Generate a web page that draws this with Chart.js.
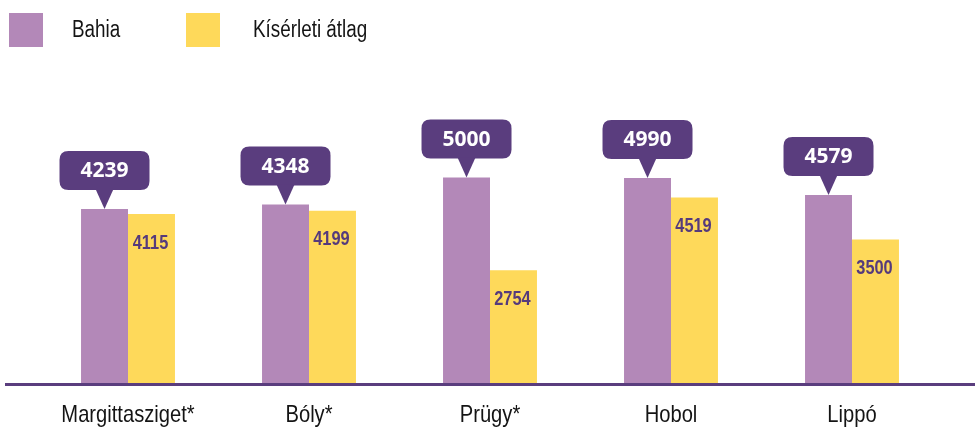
<!DOCTYPE html>
<html>
<head>
<meta charset="utf-8">
<script src="https://cdn.jsdelivr.net/npm/chart.js@4/dist/chart.umd.min.js"></script>
<style>
html,body{margin:0;padding:0;background:#fff;}
#wrap{width:975px;height:430px;position:relative;}
</style>
</head>
<body>
<div id="wrap"><canvas id="c" width="975" height="430"></canvas></div>
<script>
const categories = ['Margittasziget*', 'Bóly*', 'Prügy*', 'Hobol', 'Lippó'];
const seriesNames = ['Bahia', 'Kísérleti átlag'];
const bahia = [4239, 4348, 5000, 4990, 4579];
const atlag = [4115, 4199, 2754, 4519, 3500];

const PURPLE = '#b388b8';
const YELLOW = '#fed95a';
const DARK = '#5a3d7e';
const SANS = "'Liberation Sans', Arial, sans-serif";
const WIDE = "'Open Sans', 'Liberation Sans', sans-serif";

function roundRect(ctx, x, y, w, h, r) {
  ctx.beginPath();
  ctx.moveTo(x + r, y);
  ctx.lineTo(x + w - r, y);
  ctx.quadraticCurveTo(x + w, y, x + w, y + r);
  ctx.lineTo(x + w, y + h - r);
  ctx.quadraticCurveTo(x + w, y + h, x + w - r, y + h);
  ctx.lineTo(x + r, y + h);
  ctx.quadraticCurveTo(x, y + h, x, y + h - r);
  ctx.lineTo(x, y + r);
  ctx.quadraticCurveTo(x, y, x + r, y);
  ctx.closePath();
}

// condensed text: horizontal squeeze of a regular face
function narrowText(ctx, text, x, y, sx, align) {
  ctx.save();
  ctx.translate(x, y);
  ctx.scale(sx, 1);
  ctx.textAlign = align;
  ctx.textBaseline = 'middle';
  ctx.fillText(text, 0, 0);
  ctx.restore();
}

const decor = {
  id: 'decor',
  afterDatasetsDraw(chart) {
    const ctx = chart.ctx;
    const xs = chart.scales.x;
    const ys = chart.scales.y;
    const base = ys.getPixelForValue(0);
    ctx.save();
    // axis line
    ctx.fillStyle = DARK;
    ctx.fillRect(5, base - 1, 970, 3);

    // category labels
    ctx.fillStyle = '#141414';
    ctx.font = '24px ' + SANS;
    categories.forEach((c, i) => {
      narrowText(ctx, c, xs.getPixelForValue(i), base + 31, 0.84, 'center');
    });

    // callouts for Bahia
    const m0 = chart.getDatasetMeta(0);
    m0.data.forEach((el, i) => {
      const x = el.x, y = el.y;
      const w = 90, h = 39, gap = 19;
      ctx.fillStyle = DARK;
      roundRect(ctx, x - w / 2, y - gap - h, w, h, 9);
      ctx.fill();
      ctx.beginPath();
      ctx.moveTo(x - 9, y - gap - 1);
      ctx.lineTo(x + 9, y - gap - 1);
      ctx.lineTo(x, y);
      ctx.closePath();
      ctx.fill();
      ctx.fillStyle = '#fff';
      ctx.font = 'bold 21px ' + WIDE;
      ctx.textAlign = 'center';
      ctx.textBaseline = 'middle';
      ctx.fillText(String(bahia[i]), x, y - gap - h / 2 + 1);
    });

    // labels inside yellow bars
    const m1 = chart.getDatasetMeta(1);
    m1.data.forEach((el, i) => {
      ctx.fillStyle = '#553a7c';
      ctx.font = 'bold 21px ' + SANS;
      narrowText(ctx, String(atlag[i]), el.x - 1, el.y + 29, 0.78, 'center');
    });

    // legend
    const colors = [PURPLE, YELLOW];
    const boxX = [9, 186];
    const textX = [72, 253];
    chart.data.datasets.forEach((ds, i) => {
      ctx.fillStyle = colors[i];
      ctx.fillRect(boxX[i], 13, 34, 34);
      ctx.fillStyle = '#141414';
      ctx.font = '23px ' + SANS;
      narrowText(ctx, ds.label, textX[i], 31, 0.82, 'left');
    });
    ctx.restore();
  }
};

new Chart(document.getElementById('c'), {
  type: 'bar',
  data: {
    labels: categories,
    datasets: [
      { label: seriesNames[0], data: bahia, backgroundColor: PURPLE, borderWidth: 0 },
      { label: seriesNames[1], data: atlag, backgroundColor: YELLOW, borderWidth: 0 }
    ]
  },
  options: {
    responsive: false,
    animation: false,
    devicePixelRatio: 1,
    layout: { padding: { top: 136.3, bottom: 46, left: 37.5, right: 32.5 } },
    datasets: { bar: { barPercentage: 1, categoryPercentage: 0.519 } },
    plugins: { legend: { display: false }, tooltip: { enabled: false } },
    scales: {
      x: { display: false },
      y: { display: false, min: 0, max: 6000 }
    }
  },
  plugins: [decor]
});
</script>
</body>
</html>
